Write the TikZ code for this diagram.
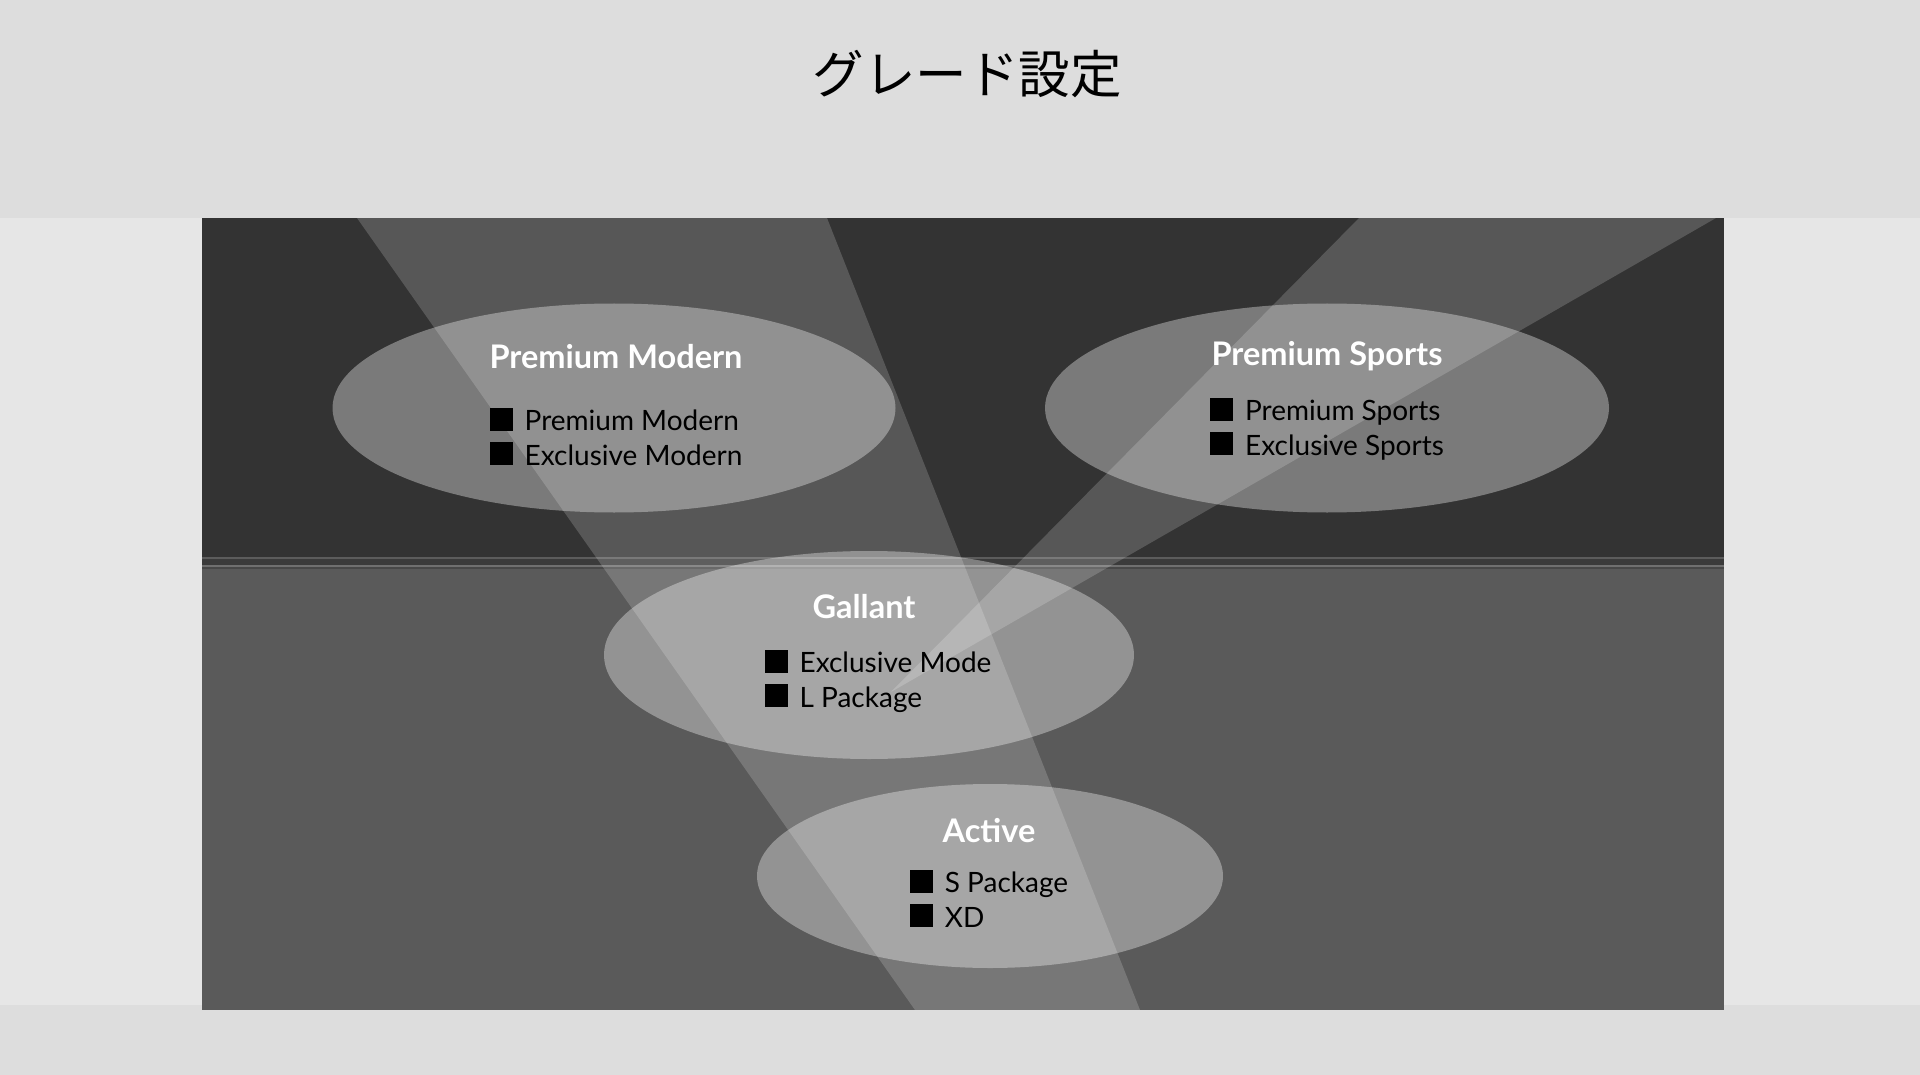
\documentclass[tikz,border=0pt]{standalone}
\usepackage{fontspec}
\setmainfont{Lato}
\newfontfamily\jpfont{Noto Sans CJK JP}
\usepackage{tikz}
\usetikzlibrary{shapes.geometric, positioning}

\definecolor{bandgray}{HTML}{DDDDDD}
\definecolor{sidegray}{HTML}{E6E6E6}
\definecolor{uppergray}{HTML}{333333}
\definecolor{lowergray}{HTML}{5A5A5A}
\definecolor{seamlight}{HTML}{5C5C5C}
\definecolor{seamdark}{HTML}{3B3B3B}
\definecolor{seamlighter}{HTML}{707070}
\definecolor{seammid}{HTML}{484848}

\newcommand{\gradeitem}[1]{\rule{23pt}{23pt}\hspace{12pt}#1}

\begin{document}
\begin{tikzpicture}[x=1pt, y=-1pt, grade/.style={ellipse, draw=none, fill=white, fill opacity=0.35, inner sep=0pt}, beam/.style={fill=white, fill opacity=0.18}, gradetitle/.style={text=white, font=\fontsize{32.5}{38}\selectfont\bfseries, inner sep=0pt, anchor=base}, gradeitems/.style={text=black, font=\fontsize{28}{34.5}\selectfont, align=left, inner sep=0pt}]
    \useasboundingbox (0,0) rectangle (1920,1075);

    %Background
    \fill[bandgray] (0,0) rectangle (1920,1075);
    \fill[sidegray] (0,218) rectangle (1920,1005);
    \fill[uppergray] (202,218) rectangle (1724,557);
    \fill[seamlight] (202,557) rectangle (1724,559);
    \fill[seamdark] (202,559) rectangle (1724,565);
    \fill[seamlighter] (202,565) rectangle (1724,567);
    \fill[seammid] (202,567) rectangle (1724,569);
    \fill[lowergray] (202,569) rectangle (1724,1010);

    %Beams
    \fill[beam] (357,218) -- (827,218) -- (1140,1010) -- (915,1010) -- cycle;
    \fill[beam] (1359,218) -- (1716,218) -- (891,692) -- cycle;

    %Nodes
    \node[font=\jpfont\fontsize{51.5}{58}\selectfont, inner sep=0pt](heading) at (967,74){グレード設定};
    \node[grade, minimum width=563pt, minimum height=209pt](modern) at (614,408){};
    \node[grade, minimum width=564pt, minimum height=209pt](sports) at (1327,408){};
    \node[grade, minimum width=530pt, minimum height=208pt](gallant) at (869,655){};
    \node[grade, minimum width=466pt, minimum height=184pt](active) at (990,876){};

    \node[gradetitle](modern_title) at (616,368){Premium Modern};
    \node[gradeitems](modern_items)[below=39pt of modern_title]{\gradeitem{Premium Modern}\\\gradeitem{Exclusive Modern}};
    \node[gradetitle](sports_title) at (1327,366){Premium Sports};
    \node[gradeitems](sports_items)[below=26pt of sports_title]{\gradeitem{Premium Sports}\\\gradeitem{Exclusive Sports}};
    \node[gradetitle](gallant_title) at (864,618){Gallant};
    \node[gradeitems](gallant_items)[below=31pt of gallant_title, xshift=14pt]{\gradeitem{Exclusive Mode}\\\gradeitem{L Package}};
    \node[gradetitle](active_title) at (989,842){Active};
    \node[gradeitems](active_items)[below=27pt of active_title]{\gradeitem{S Package}\\\gradeitem{XD}};

\end{tikzpicture}
\end{document}
